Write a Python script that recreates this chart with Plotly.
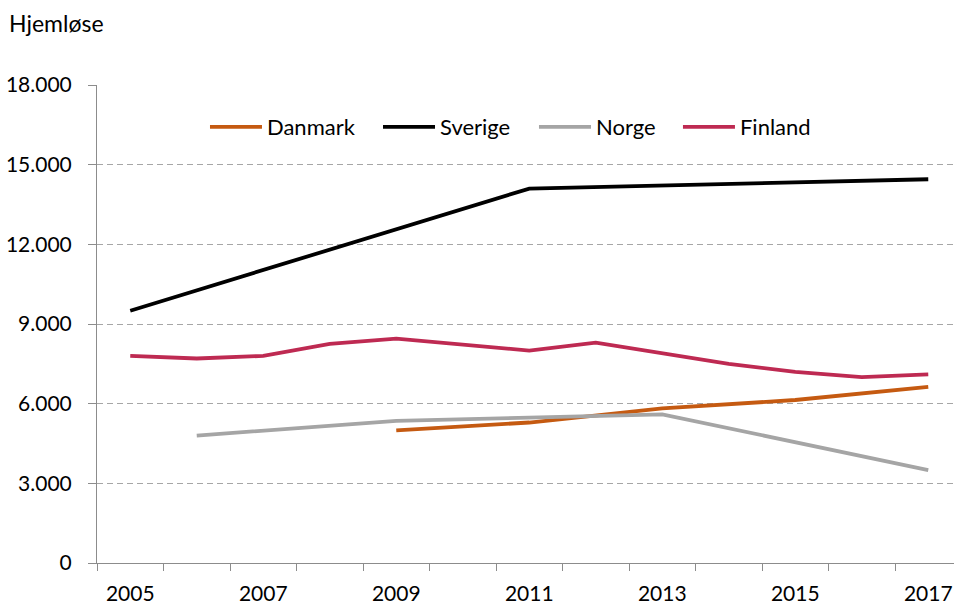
import plotly.graph_objects as go

# Antal hjemløse i de nordiske lande, 2005-2017
years = list(range(2005, 2018))
danmark = [None, None, None, None, 4998, None, 5290, None, 5820, None, 6138, None, 6635]
sverige = [9500, None, None, None, None, None, 14100, None, None, None, None, None, 14450]
norge = [None, 4800, None, None, 5350, None, None, None, 5600, None, None, None, 3500]
finland = [7800, 7700, 7800, 8250, 8450, None, 8000, 8300, 7900, 7500, 7200, 7000, 7100]

names = ["Danmark", "Sverige", "Norge", "Finland"]
colors = ["#C55A11", "#000000", "#A5A5A5", "#BE2A52"]
values = [danmark, sverige, norge, finland]

x_labels = [y for y in years if y % 2 == 1]
y_ticks = list(range(0, 18001, 3000))

FONT = "Lato"
AXIS_GREY = "#8C8C8C"

# one single-entry legend per country, laid out in a row across the top
legend_ids = ["legend", "legend2", "legend3", "legend4"]
legend_x = [0.1260, 0.3279, 0.5099, 0.6779]

fig = go.Figure()
for name, vals, color, lid in zip(names, values, colors, legend_ids):
    fig.add_trace(go.Scatter(
        x=years, y=vals, name=name, mode="lines",
        line=dict(color=color, width=3.8),
        connectgaps=True, legend=lid, showlegend=True,
    ))

legend_style = dict(
    orientation="h", y=0.912, xanchor="left", yanchor="middle",
    font=dict(family=FONT, size=22, color="black"),
    itemwidth=52, bgcolor="rgba(0,0,0,0)",
)
legends = {lid: dict(legend_style, x=lx) for lid, lx in zip(legend_ids, legend_x)}

fig.update_layout(
    width=954, height=605,
    margin=dict(l=97, r=0, t=85, b=42),
    paper_bgcolor="white", plot_bgcolor="white",
    separators=",.",
    showlegend=True,
    font=dict(family=FONT, size=21, color="black"),
    annotations=[dict(
        text="Hjemløse", xref="paper", yref="paper", x=-0.105, y=1.13,
        xanchor="left", yanchor="middle", showarrow=False,
        font=dict(family=FONT, size=23, color="black"),
    )],
    **legends,
)

fig.update_xaxes(
    range=[2004.5, 2017.387],
    tickmode="array", tickvals=x_labels, ticktext=[str(v) for v in x_labels],
    ticks="", showgrid=False, zeroline=False,
    showline=True, linecolor=AXIS_GREY, linewidth=1,
    tickfont=dict(family=FONT, size=21, color="black"),
    ticklabelstandoff=12,
    minor=dict(tick0=2004.5, dtick=1, ticks="outside", ticklen=7,
               tickcolor=AXIS_GREY, tickwidth=1, showgrid=False),
)

fig.update_yaxes(
    range=[0, 18000],
    tickmode="array", tickvals=y_ticks, tickformat=",d",
    ticks="outside", ticklen=8, tickcolor=AXIS_GREY, tickwidth=1,
    showgrid=True, gridcolor="#A6A6A6", gridwidth=1, griddash="6px,4px",
    zeroline=False, showline=True, linecolor=AXIS_GREY, linewidth=1,
    tickfont=dict(family=FONT, size=21, color="black"),
    ticklabelstandoff=12,
)

fig.write_html("out.html")
